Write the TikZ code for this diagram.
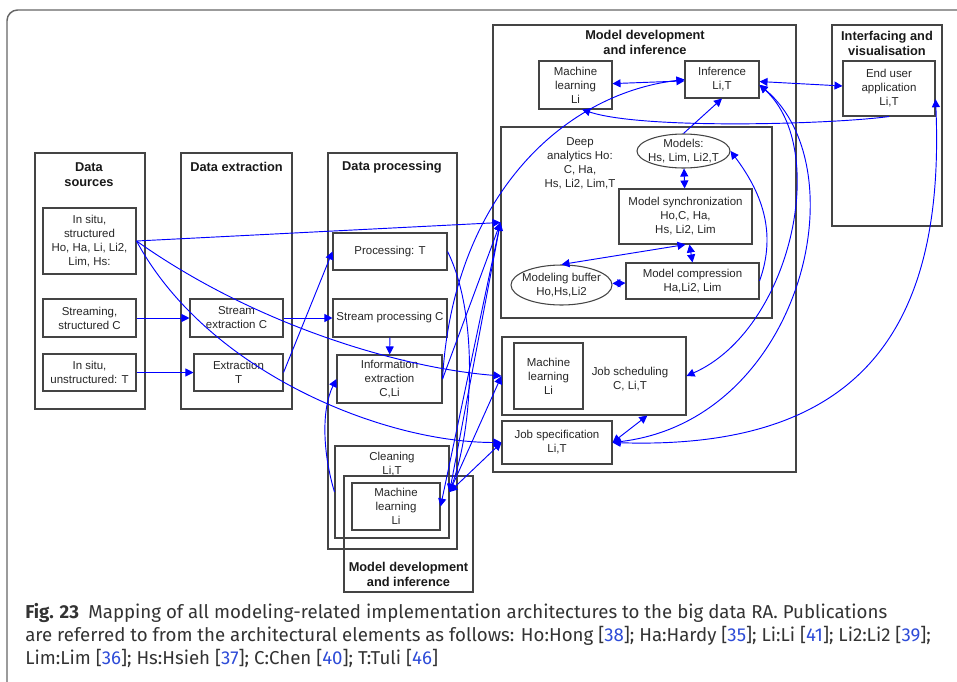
\documentclass[tikz,border=0pt]{standalone}
\usepackage{fontspec}
\setmainfont{Liberation Sans}
\newfontfamily\capfont{Fira Sans}
\usetikzlibrary{arrows.meta,shapes.geometric}
\definecolor{boxgray}{RGB}{68,68,68}
\definecolor{refblue}{RGB}{45,75,215}

\tikzset{
  wh/.style 2 args={minimum width=#1*0.75pt, minimum height=#2*0.75pt},
  lbl/.style={font=\fontsize{8.6}{10.5}\selectfont, align=center, text=black!85},
  ttl/.style={font=\fontsize{9.6}{11.3}\selectfont\bfseries, align=center, text=black!90}
}

\begin{document}
\begin{tikzpicture}[x=0.75pt,y=-0.75pt]
\useasboundingbox (0,0) rectangle (957,682);

% outer frame
\draw[black!60, line width=1.1pt, rounded corners=8pt] (7,700) -- (7,10) -- (975,10);

% layer frames
\begin{scope}[every node/.style={draw=boxgray, line width=0.8pt, inner sep=0pt}]
    \node[wh={110}{256}] (DS) at (90,281) {};
    \node[wh={111}{256}] (DE) at (236.5,281) {};
    \node[wh={129}{396}] (DP) at (392.5,351) {};
    \node[wh={129}{116}] (ML) at (408.5,534) {};
    \node[wh={114}{92}] (CL) at (392,492) {};
    \node[wh={303}{447}] (MD) at (644.5,248.5) {};
    \node[wh={271}{191}] (DA) at (636.5,222.5) {};
    \node[wh={184}{78}] (JS) at (594,376) {};
    \node[wh={110}{201}] (IV) at (887,125.5) {};
\end{scope}

\begin{scope}[every node/.style={ttl}]
    \node (tDS) at (89,175) {Data\\sources};
    \node (tDE) at (236.5,167) {Data extraction};
    \node (tDP) at (392,167) {Data processing};
    \node (tML) at (408.5,574.5) {Model development\\and inference};
    \node (tMD) at (645,42.5) {Model development\\and inference};
    \node (tIV) at (887,43) {Interfacing and\\visualisation};
\end{scope}

% elements
\begin{scope}[every node/.style={draw=boxgray, line width=0.8pt, inner sep=0pt, lbl}]
    \node[wh={93}{66}] (S1) at (89.5,241) {In situ,\\structured\\Ho, Ha, Li, Li2,\\Lim, Hs:};
    \node[wh={93}{38}] (S2) at (89.5,318) {Streaming,\\structured C};
    \node[wh={93}{37}] (S3) at (89.5,372.5) {In situ,\\unstructured: T};
    \node[wh={93}{38}] (E1) at (236.5,318) {Stream\\extraction C};
    \node[wh={89}{37}] (E2) at (238.5,372.5) {Extraction\\T};
    \node[wh={114}{37}] (P1) at (390,251.5) {Processing: T};
    \node[wh={114}{38}] (P2) at (390,318) {Stream processing C};
    \node[wh={105}{48}] (P3) at (389.5,379) {Information\\extraction\\C,Li};
    \node[wh={88}{47}] (ML0) at (396,506.5) {Machine\\learning\\Li};
    \node[wh={73}{48}] (M1) at (575.5,85) {Machine\\learning\\Li};
    \node[wh={74}{37}] (M2) at (722,79.5) {Inference\\Li,T};
    \node[wh={133}{55}] (M4) at (685.5,216.5) {Model synchronization\\Ho,C, Ha,\\Hs, Li2, Lim};
    \node[wh={133}{36}] (M6) at (692.5,281) {Model compression\\Ha,Li2, Lim};
    \node[wh={69}{66}] (M7) at (548.5,376) {Machine\\learning\\Li};
    \node[wh={110}{43}] (M8) at (557,442.5) {Job specification\\Li,T};
    \node[wh={92}{55}] (V1) at (889,88.5) {End user\\application\\Li,T};
\end{scope}

\begin{scope}[every node/.style={lbl}]
    \node[ellipse, draw=boxgray, line width=0.8pt, inner sep=0pt, wh={93}{34},
          label={[lbl]center:{Models:\\Hs, Lim, Li2,T}}] (M3) at (683.5,151) {};
    \node[ellipse, draw=boxgray, line width=0.8pt, inner sep=0pt, wh={101}{40},
          label={[lbl]center:{Modeling buffer\\Ho,Hs,Li2}}] (M5) at (561.5,285) {};
    \node (tDA) at (580,163) {Deep\\analytics Ho:\\C, Ha,\\Hs, Li2, Lim,T};
    \node (tJS) at (630,379) {Job scheduling\\C, Li,T};
    \node (tCL) at (392,464.5) {Cleaning\\Li,T};
\end{scope}

% connectors
\begin{scope}[>={Triangle[length=6pt,width=6pt]},
              every edge/.style={draw=blue, line width=0.7pt}]
    \path [->] (S2) edge (E1)
               (S3) edge (E2)
               (E1) edge (P2)
               (E2.east) edge (P1.west)
               (P2) edge (P3)
               (S1.east) edge (DA.west)
               (P3.east) edge (DA.west)
               (M3.north) edge (M2.south);
    \path [<->] (M1) edge (M2)
                (M2) edge (V1)
                (M3) edge (M4)
                (M4.south) edge (M5.north)
                ([xshift=3pt]M4.south) edge (M6.north)
                (M5) edge (M6)
                ([xshift=40pt]JS.south) edge (M8.east)
                (CL.east) edge (DA.west)
                (CL.east) edge (JS.west)
                (CL.east) edge (M8.west);
    \path [->] (DA.west) edge (ML0.east);
\end{scope}

\begin{scope}[draw=blue, line width=0.7pt, >={Triangle[length=6pt,width=6pt]}]
    \draw [->] (S1.east) .. controls +(120,85) and +(-100,-8) .. (JS.west);
    \draw [->] (S1.east) .. controls +(70,130) and +(-120,0) .. (M8.west);
    \draw [->] (CL.west) .. controls +(-12,-40) and +(-15,30) .. (P3.west);
    \draw [->] (P1.east) .. controls +(30,60) and +(25,-70) .. (CL.east);
    \draw [->] (P3.east) .. controls +(10,-178) and +(-125,15) .. (M2.west);
    \draw [->] (V1.south) .. controls +(-60,8) and +(60,20) .. ([xshift=5pt]M1.south);
    \draw [->] (M6.east) .. controls +(18,-50) and +(30,40) .. (M3.east);
    \draw [<->] ([yshift=-4pt]M2.east) .. controls +(71,65) and +(104,-46) .. (JS.east);
    \draw [<->] ([yshift=-4pt]M2.east) .. controls +(101,85) and +(188,-22) .. (M8.east);
    \draw [<->] ([yshift=-8pt]V1.east) .. controls +(10,230) and +(248,8) .. (M8.east);
\end{scope}

% caption
\node[anchor=north west, align=left, inner sep=0pt, text=black!80,
      font=\capfont\fontsize{14}{17.3}\selectfont] (cap) at (25,603)
  {{\bfseries Fig. 23}\enspace Mapping of all modeling-related implementation architectures to the big data RA. Publications\\
   are referred to from the architectural elements as follows: Ho:Hong [\textcolor{refblue}{38}]; Ha:Hardy [\textcolor{refblue}{35}]; Li:Li [\textcolor{refblue}{41}]; Li2:Li2 [\textcolor{refblue}{39}];\\
   Lim:Lim [\textcolor{refblue}{36}]; Hs:Hsieh [\textcolor{refblue}{37}]; C:Chen [\textcolor{refblue}{40}]; T:Tuli [\textcolor{refblue}{46}]};
\end{tikzpicture}
\end{document}
